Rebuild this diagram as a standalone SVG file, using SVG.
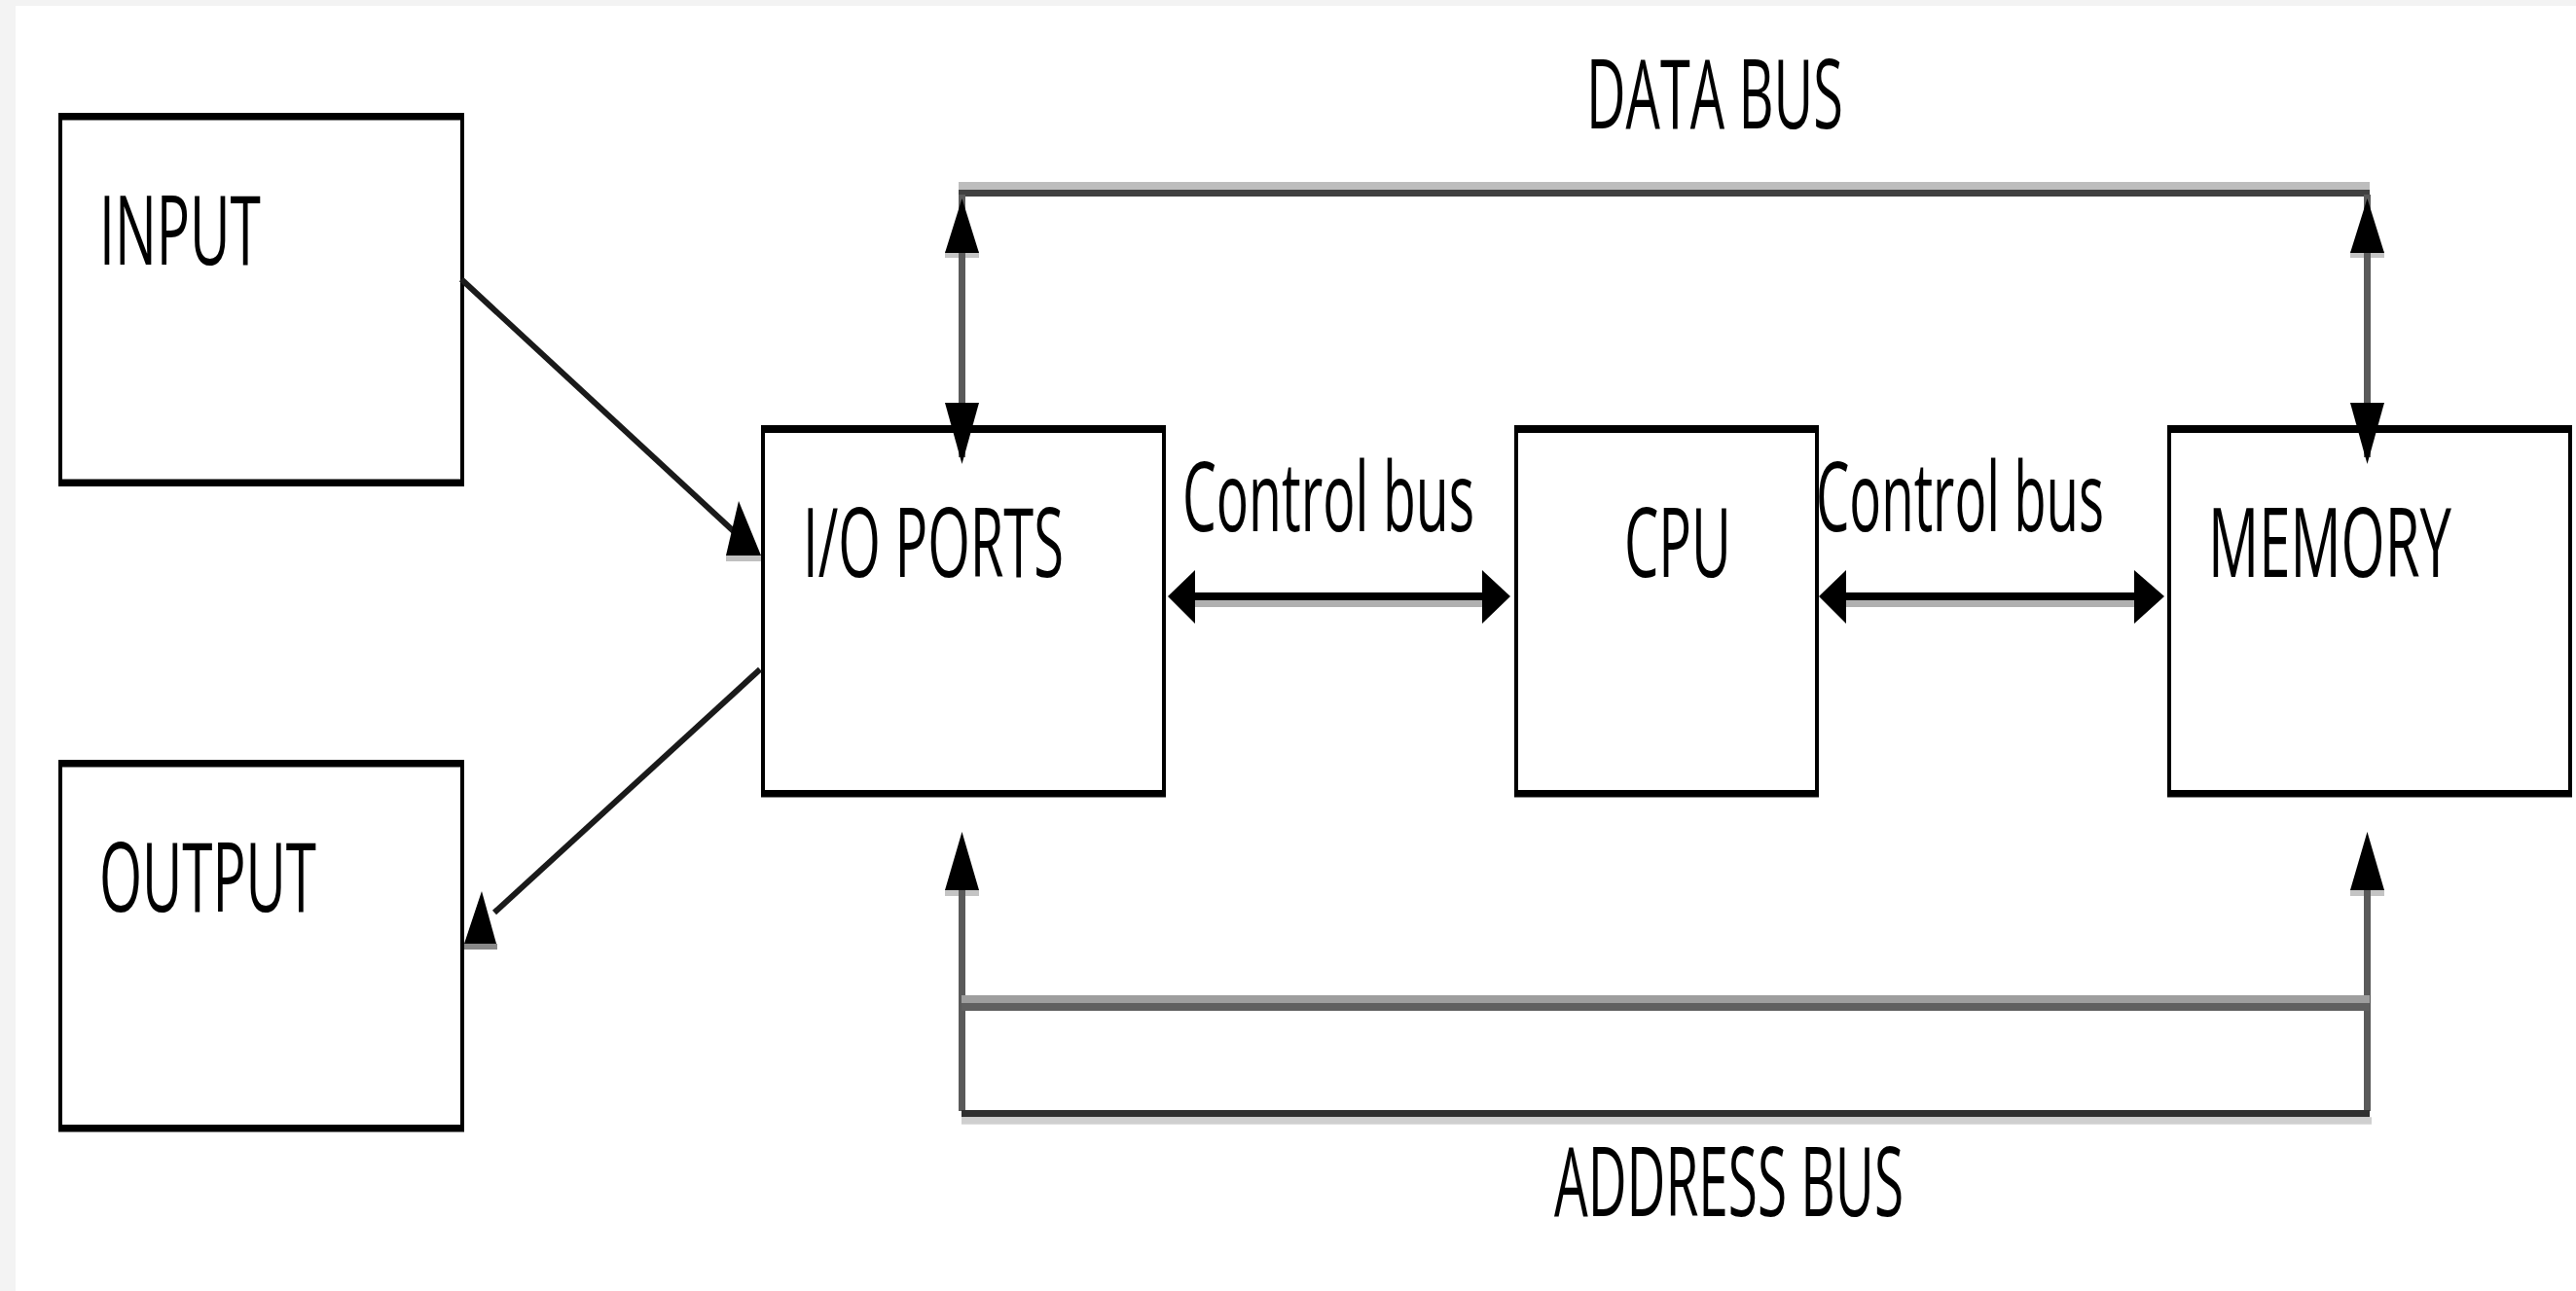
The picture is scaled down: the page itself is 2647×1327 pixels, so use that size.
<svg xmlns="http://www.w3.org/2000/svg" width="2647" height="1327" viewBox="0 0 2647 1327">
<style>
.frame{fill:#000}
.inner{fill:#fff}
.lbl{font-family:"Open Sans","Liberation Sans",sans-serif;font-size:98px;fill:#000}
.head{fill:#000}
.vbus{stroke:#5a5a5a;stroke-width:7;fill:none}
.diag{stroke:#1a1a1a;stroke-width:6;fill:none}
</style>
<rect x="0" y="0" width="2647" height="1327" fill="#f3f3f3"/>
<rect x="16" y="6" width="2631" height="1321" fill="#fff"/>

<g id="node-input">
<rect class="frame" x="60" y="116" width="417" height="384"/>
<rect class="inner" x="64" y="123.5" width="409" height="369"/>
<text class="lbl" x="102" y="272" textLength="166" lengthAdjust="spacingAndGlyphs">INPUT</text>
</g>
<g id="node-output">
<rect class="frame" x="60" y="781" width="417" height="382.5"/>
<rect class="inner" x="64" y="788.5" width="409" height="367.5"/>
<text class="lbl" x="102" y="937" textLength="223" lengthAdjust="spacingAndGlyphs">OUTPUT</text>
</g>
<g id="node-io">
<rect class="frame" x="782" y="437" width="416" height="382.5"/>
<rect class="inner" x="786" y="445" width="408" height="367"/>
<text class="lbl" x="825" y="593" textLength="268" lengthAdjust="spacingAndGlyphs">I/O PORTS</text>
</g>
<g id="node-cpu">
<rect class="frame" x="1556" y="437" width="313" height="382.5"/>
<rect class="inner" x="1560" y="445" width="305" height="367"/>
<text class="lbl" x="1669" y="593" textLength="110" lengthAdjust="spacingAndGlyphs">CPU</text>
</g>
<g id="node-memory">
<rect class="frame" x="2227" y="437" width="416" height="382.5"/>
<rect class="inner" x="2231" y="445" width="408" height="367"/>
<text class="lbl" x="2269" y="593" textLength="250" lengthAdjust="spacingAndGlyphs">MEMORY</text>
</g>

<g id="connectors">
<!-- data bus -->
<rect x="985" y="187" width="1450" height="8" fill="#bdbdbd"/>
<rect x="985" y="195" width="1450" height="7" fill="#404040"/>
<rect x="971" y="258" width="35" height="7" fill="#c4c4c4"/>
<rect x="2415" y="258" width="35" height="7" fill="#c4c4c4"/>
<line class="vbus" x1="988.5" y1="200" x2="988.5" y2="470"/>
<line class="vbus" x1="2432.5" y1="200" x2="2432.5" y2="470"/>
<polygon class="head" points="988.5,204 971,260 1006,260"/>
<polygon class="head" points="971,414 1006,414 988.5,477"/>
<polygon class="head" points="2432.5,204 2415,260 2450,260"/>
<polygon class="head" points="2415,414 2450,414 2432.5,477"/>
<text class="lbl" x="1630" y="132" textLength="264" lengthAdjust="spacingAndGlyphs">DATA BUS</text>

<!-- address bus -->
<rect x="971" y="914" width="35" height="7" fill="#c4c4c4"/>
<rect x="2415" y="914" width="35" height="7" fill="#c4c4c4"/>
<line class="vbus" x1="988.5" y1="910" x2="988.5" y2="1142"/>
<line class="vbus" x1="2432.5" y1="910" x2="2432.5" y2="1142"/>
<polygon class="head" points="988.5,855 971,915 1006,915"/>
<polygon class="head" points="2432.5,855 2415,915 2450,915"/>
<rect x="988" y="1023" width="1447" height="8" fill="#9e9e9e"/>
<rect x="988" y="1031" width="1447" height="8" fill="#606060"/>
<rect x="988" y="1141" width="1447" height="7.3" fill="#303030"/>
<rect x="988" y="1148.3" width="1449" height="7.4" fill="#cfcfcf"/>
<text class="lbl" x="1597" y="1250" textLength="359" lengthAdjust="spacingAndGlyphs">ADDRESS BUS</text>

<!-- control buses -->
<rect x="1215" y="617" width="318" height="7" fill="#b0b0b0"/>
<rect x="1215" y="609" width="318" height="8" fill="#000"/>
<polygon class="head" points="1200,613 1228,586 1228,641"/>
<polygon class="head" points="1552,613 1523,586 1523,641"/>
<text class="lbl" x="1215" y="546" textLength="300" lengthAdjust="spacingAndGlyphs">Control bus</text>
<rect x="1885" y="617" width="320" height="7" fill="#b0b0b0"/>
<rect x="1885" y="609" width="320" height="8" fill="#000"/>
<polygon class="head" points="1869,613 1897,586 1897,641"/>
<polygon class="head" points="2224,613 2193,586 2193,641"/>
<text class="lbl" x="1866" y="546" textLength="296" lengthAdjust="spacingAndGlyphs">Control bus</text>

<!-- input to io -->
<line class="diag" x1="474" y1="287" x2="757" y2="549"/>
<rect x="746" y="570" width="36" height="7" fill="#c0c0c0"/>
<polygon class="head" points="759,515 746,571 782,571"/>

<!-- io to output -->
<line class="diag" x1="781" y1="688" x2="508" y2="938"/>
<rect x="477" y="970" width="34" height="6" fill="#888"/>
<polygon class="head" points="495,916 477,970 510,970"/>
</g>
</svg>
